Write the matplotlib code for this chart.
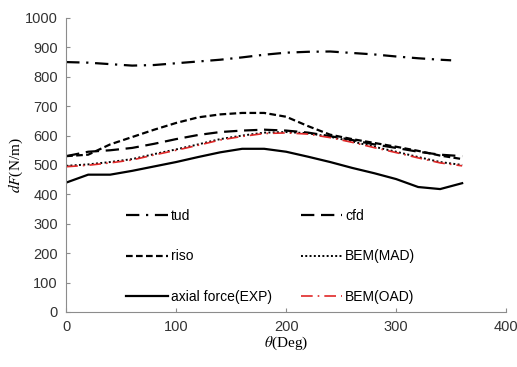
import numpy as np
import matplotlib.pyplot as plt

plt.rcParams['mathtext.fontset'] = 'stix'

# azimuth angle (deg)
theta = [0, 20, 40, 60, 80, 100, 120, 140, 160, 180, 200, 220, 240, 260, 280, 300, 320, 340, 360]
theta_tud = [0, 20, 40, 60, 80, 100, 120, 140, 160, 180, 200, 220, 240, 260, 280, 300, 320, 340, 350]

tud = [850, 848, 843, 838, 840, 846, 852, 858, 866, 875, 882, 885, 886, 881, 876, 869, 863, 858, 856]
cfd = [530, 545, 550, 558, 572, 588, 602, 612, 617, 620, 617, 610, 598, 585, 570, 558, 545, 535, 530]
riso = [530, 535, 570, 595, 620, 643, 662, 672, 677, 677, 664, 632, 603, 588, 575, 562, 548, 532, 520]
bem_mad = [497, 502, 510, 520, 537, 553, 570, 588, 600, 610, 612, 608, 596, 580, 562, 545, 527, 510, 500]
bem_oad = [494, 499, 507, 517, 534, 550, 567, 585, 597, 607, 609, 605, 593, 577, 559, 542, 524, 507, 497]
exp_force = [440, 467, 467, 480, 495, 510, 527, 543, 555, 555, 545, 528, 510, 490, 472, 452, 425, 418, 438]

fig = plt.figure(figsize=(5.17, 3.67), dpi=100)
ax = fig.add_axes([0.128, 0.150, 0.851, 0.801])

l_tud, = ax.plot(theta_tud, tud, color="black", lw=1.6, dashes=(6, 3, 1, 3), label="tud")
l_cfd, = ax.plot(theta, cfd, color="black", lw=1.6, dashes=(6, 3), label="cfd")
l_riso, = ax.plot(theta, riso, color="black", lw=1.6, dashes=(3, 1.5), label="riso")
l_mad, = ax.plot(theta, bem_mad, color="black", lw=1.4, dashes=(1, 1.2), label="BEM(MAD)")
l_exp, = ax.plot(theta, exp_force, color="black", lw=1.6, label="axial force(EXP)")
l_oad, = ax.plot(theta, bem_oad, color="#e02828", lw=1.2, dashes=(7, 3, 1, 3), label="BEM(OAD)")

ax.set_xlim(0, 400)
ax.set_ylim(0, 1000)
ax.set_xticks([0, 100, 200, 300, 400])
ax.set_yticks(range(0, 1001, 100))

for s in ["top", "right"]:
    ax.spines[s].set_visible(False)
for s in ["left", "bottom"]:
    ax.spines[s].set_color("#8c8c8c")
ax.tick_params(direction="in", length=3, color="#8c8c8c", labelsize=10.5, pad=6)
for lab in ax.get_xticklabels() + ax.get_yticklabels():
    lab.set_fontfamily("Liberation Sans")
    lab.set_color("#333333")

ax.set_xlabel(r"$\theta$(Deg)", fontfamily="Liberation Serif", fontsize=11, labelpad=0)
ax.set_ylabel(r"$dF$(N/m)", fontfamily="Liberation Serif", fontsize=11, labelpad=0)

# row-wise order: tud/cfd, riso/BEM(MAD), EXP/BEM(OAD)
handles = [l_tud, l_riso, l_exp, l_cfd, l_mad, l_oad]
ax.legend(handles, [h.get_label() for h in handles], ncol=2, frameon=False,
          loc="lower left", bbox_to_anchor=(0.108, -0.015),
          prop={"family": "Liberation Sans", "size": 10}, labelspacing=1.9,
          handlelength=3.0, handletextpad=0.2, columnspacing=2.1)

fig.savefig("out.png", dpi=100)
